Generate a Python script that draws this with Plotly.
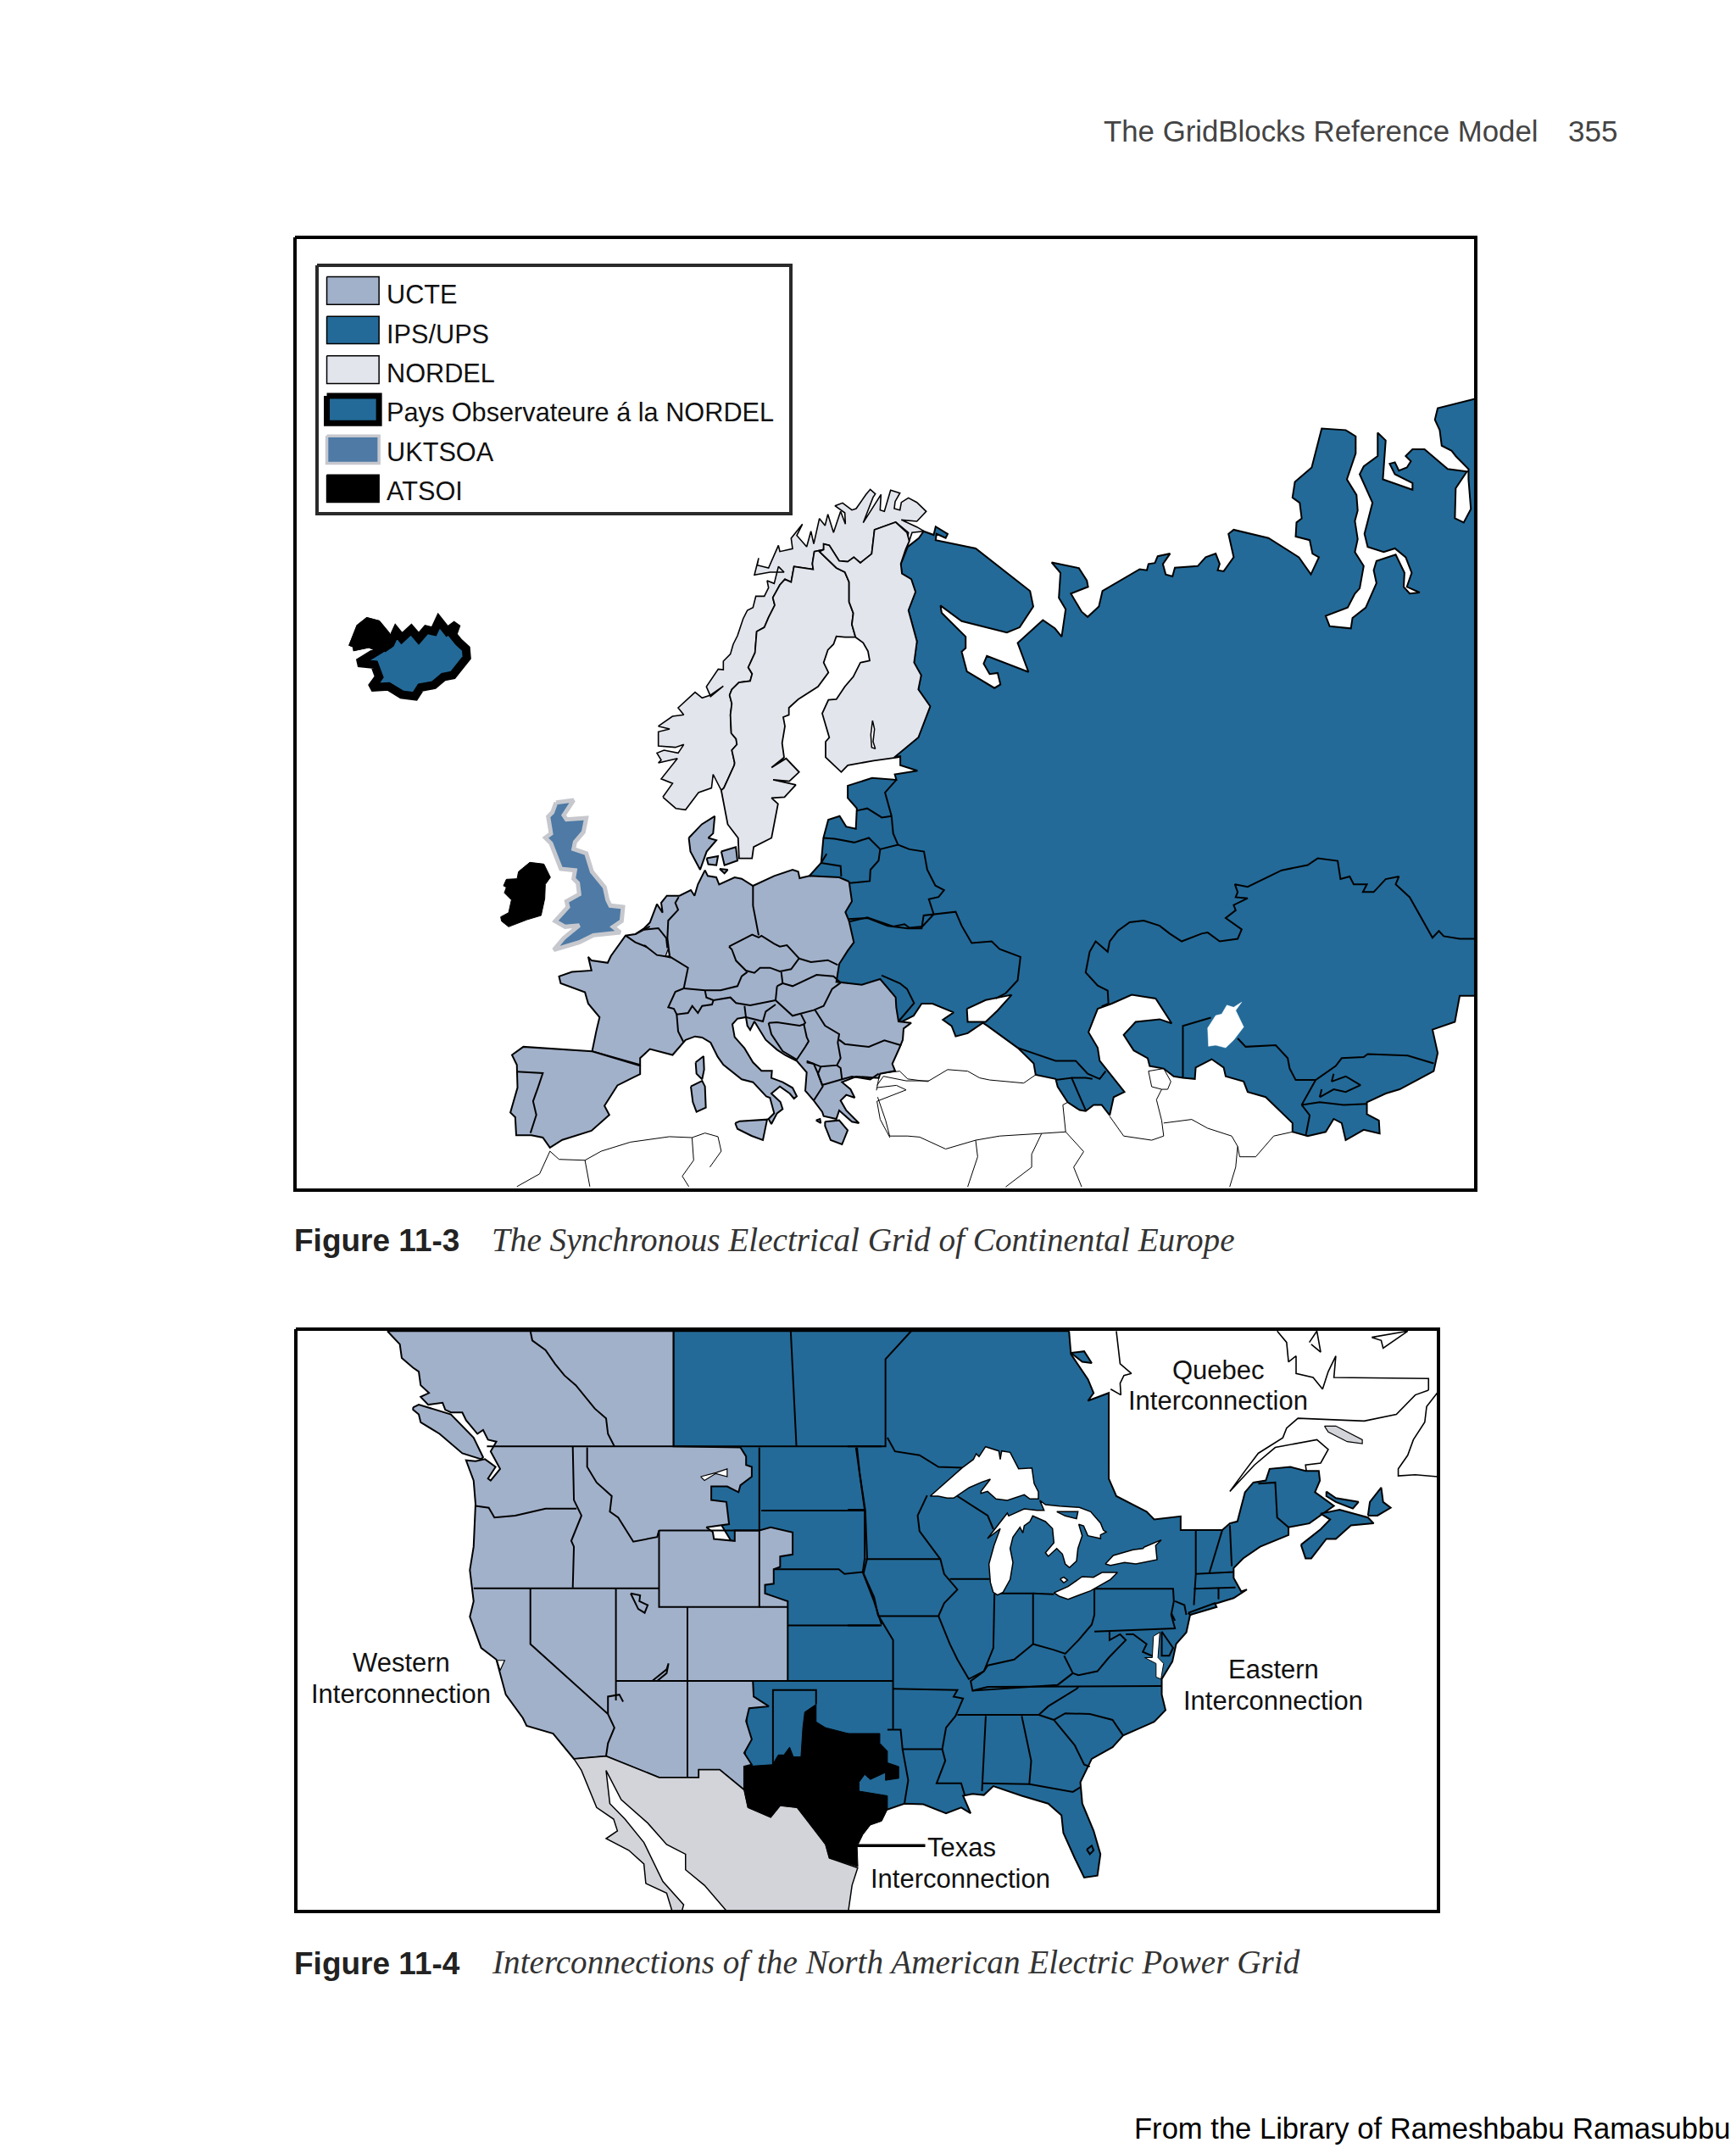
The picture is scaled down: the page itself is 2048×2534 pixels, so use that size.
import plotly.graph_objects as go

# ---------- colours ----------
UCTE_C, IPS_C, NORDEL_C, UK_C, UK_HALO, BLACK, MEX_C = "#A2B1CA", "#236A98", "#E3E5ED", "#4E7AA5", "#C6C8CE", "#000000", "#D3D4D9"

# ---------- legend ----------
legend_labels = ["UCTE", "IPS/UPS", "NORDEL", "Pays Observateure á la NORDEL", "UKTSOA", "ATSOI"]
legend_tops = [136, 249, 361, 475, 589, 700]
legend_bottoms = [215, 327, 440, 553, 667, 778]
legend_text_y = [185, 297, 410, 520, 633, 745]

# ---------- Europe (outlines) ----------
ips_east = [(132,370),(150,335),(178,318),(190,305),(215,312),(220,296),(250,310),(245,318),(222,310),(220,322),(320,338),(456,420),(464,450),(430,490),(398,500),(285,478),(232,448),(235,462),(295,508),(295,530),(285,537),(298,575),(367,607),(382,600),(375,578),(355,580),(340,560),(348,545),(452,576),(425,520),(488,476),(518,492),(535,508),(545,455),(528,433),(532,385),(510,365),(578,376),(598,400),(601,412),(558,425),(585,460),(600,470),(628,450),(637,420),(730,378),(748,380),(752,368),(768,366),(775,353),(806,348),(788,368),(795,388),(812,392),(818,375),(875,372),(895,355),(920,348),(930,368),(925,380),(940,382),(965,355),(952,310),(965,302),(1052,318),(1128,355),(1158,388),(1178,355),(1162,348),(1155,322),(1120,315),(1122,288),(1135,280),(1130,250),(1112,240),(1118,210),(1160,182),(1185,107),(1245,110),(1270,122),(1270,155),(1248,205),(1272,235),(1275,265),(1268,285),(1275,320),(1268,345),(1290,372),(1280,415),(1268,425),(1250,452),(1195,468),(1205,488),(1258,492),(1262,472),(1295,452),(1322,405),(1315,380),(1322,362),(1370,350),(1392,385),(1390,412),(1405,425),(1430,423),(1398,412),(1410,385),(1395,355),(1368,338),(1340,345),(1300,335),(1292,310),(1312,250),(1280,195),(1290,180),(1325,160),(1325,115),(1345,130),(1338,205),(1412,225),(1412,212),(1368,195),(1355,175),(1368,172),(1378,188),(1398,182),(1408,170),(1395,160),(1412,147),(1442,147),(1500,185),(1548,190),(1520,222),(1518,280),(1540,288),(1558,262),(1552,205),(1552,185),(1520,160),(1510,150),(1485,140),(1480,110),(1468,90),(1475,68),(1568,50),(1568,1200),(1530,1200),(1518,1250),(1462,1265),(1475,1310),(1465,1345),(1380,1380),(1345,1388),(1298,1405),(1298,1428),(1328,1440),(1330,1465),(1290,1458),(1245,1478),(1235,1445),(1215,1437),(1195,1462),(1150,1470),(1112,1462),(1112,1445),(1045,1395),(1000,1385),(990,1365),(945,1355),(940,1338),(910,1322),(870,1338),(868,1360),(838,1358),(815,1355),(790,1340),(755,1335),(750,1320),(715,1305),(690,1275),(720,1250),(780,1245),(810,1253),(770,1205),(710,1198),(660,1215),(625,1225),(602,1270),(625,1300),(630,1325),(680,1375),(692,1385),(665,1395),(655,1430),(635,1410),(615,1410),(595,1422),(580,1420),(550,1405),(525,1375),(520,1360),(470,1352),(465,1330),(425,1300),(350,1258),(338,1252),(300,1272),(270,1278),(260,1258),(238,1246),(265,1232),(232,1222),(212,1215),(185,1215),(165,1238),(130,1252)]
ips_west = [(1310,1205),(1280,1170),(1240,1125),(1090,1125),(1110,1075),(1150,1040),(1145,1000),(1130,985),(1125,960),(1145,945),(1130,905),(1110,900),(1030,885),(1068,855),(1075,800),(1090,760),(1125,752),(1145,775),(1175,780),(1178,735),(1150,712),(1150,685),(1225,668),(1300,672),(1295,660),(1365,652),(1312,640),(1312,620)]
ips_finn_border = [(855,1000),(940,930),(982,820),(940,760),(950,710),(925,665),(935,590),(905,480),(930,415),(915,370),(882,350),(878,315)]
azov = [(298,1225),(345,1208),(410,1198),(375,1228),(345,1250),(300,1250)]
aral = [(900,1262),(920,1238),(935,1235),(948,1218),(965,1222),(985,1212),(970,1228),(990,1260),(965,1285),(945,1300),(920,1295),(902,1297)]
ips_lines_east = [
 [(0,1052),(50,1050),(100,1065),(150,1070),(185,1070),(190,1045),(270,1038),(285,1065),(310,1098),(360,1095),(380,1110),(432,1125),(425,1170),(395,1195),(370,1205)],
 [(1568,1090),(1530,1090),(1490,1085),(1478,1075),(1462,1088),(1405,1010),(1370,985),(1378,970),(1345,975),(1315,1000),(1288,1000),(1298,985),(1265,985),(1255,970),(1232,975),(1225,940),(1175,935),(1150,948),(1085,958),(1040,975),(1000,990),(968,985),(975,1000),(970,1010),(1000,1012),(965,1025),(970,1035),(945,1050),(985,1072),(975,1090),(930,1095),(900,1078),(885,1080),(835,1095),(805,1080),(780,1065),(740,1055),(705,1058),(675,1075),(655,1095),(650,1115),(620,1095),(605,1115),(595,1155),(625,1180),(650,1190),(652,1215),(635,1220)],
 [(838,1358),(838,1258),(908,1242)],
 [(975,1282),(995,1298),(1070,1295),(1100,1320),(1105,1340),(1120,1362),(1170,1362),(1220,1335),(1235,1320),(1290,1318),(1300,1312),(1400,1315),(1465,1330)],
 [(1170,1362),(1135,1410),(1180,1405),(1240,1410),(1298,1408)],
 [(1180,1395),(1215,1380),(1245,1385),(1282,1372),(1245,1355),(1210,1365),(1215,1350)],
 [(1185,1380),(1180,1395)],
 [(1135,1410),(1155,1430),(1145,1470)],
 [(425,1300),(470,1312),(520,1325),(570,1325),(600,1350),(630,1360),(645,1345)],
 [(520,1362),(560,1358),(575,1385),(595,1420)],
 [(560,1358),(595,1358),(612,1360)],
]
ips_lines_west = [
 [(1178,740),(1210,735),(1255,755),(1285,752)],
 [(1300,672),(1265,700),(1285,752),(1290,790),(1305,815)],
 [(1075,800),(1110,802),(1170,810),(1215,800),(1250,825),(1245,850),(1220,870),(1218,895),(1150,900)],
 [(1085,835),(1068,855),(1128,862),(1130,885)],
 [(1250,825),(1305,815),(1340,825),(1385,830),(1395,870),(1420,905),(1447,915),(1430,930),(1400,935),(1415,968)],
 [(1415,968),(1380,995),(1340,998),(1325,990),(1290,995),(1250,985),(1210,975),(1152,985)],
]
moldova_line = [(840,452),(905,480),(930,500),(955,550),(900,615)]
thin_east = [
 [(72,1382),(80,1350),(130,1345),(150,1360),(200,1365),(250,1342),(300,1345),(330,1358),(355,1362),(440,1368),(470,1352)],
 [(75,1395),(95,1440),(105,1470),(150,1470),(180,1472),(245,1495),(320,1478),(380,1470),(485,1465),(545,1462),(538,1410),(550,1405)],
 [(320,1478),(325,1510),(300,1568)],
 [(485,1465),(460,1505),(460,1530),(395,1568)],
 [(545,1462),(590,1500),(565,1530),(585,1568)],
 [(655,1432),(690,1470),(760,1478),(790,1470),(785,1440),(772,1400),(785,1380),(760,1375),(752,1345),(790,1340),(808,1365),(800,1380),(785,1380)],
 [(790,1445),(860,1438),(900,1455),(960,1470),(975,1490),(980,1510),(1020,1510),(1065,1470),(1112,1462)],
 [(975,1490),(970,1530),(955,1568)],
]
thin_west = [
 [(130,1568),(200,1540),(232,1490),(260,1508),(340,1510),(390,1490),(480,1470),(600,1458),(670,1460),(710,1450),(750,1458),(760,1490),(725,1525)],
 [(340,1510),(355,1568)],
 [(670,1460),(675,1510),(640,1545),(660,1568)],
 [(1240,1345),(1260,1325),(1330,1335),(1400,1335)],
 [(1240,1350),(1300,1345),(1330,1355),(1240,1380),(1250,1420),(1280,1460)],
]
ucte_north = [(725,120),(690,105),(585,100),(550,108),(545,85),(525,78),(460,100),(385,135),(345,110),(320,105),(265,130),(255,105),(225,100),(215,80),(190,130),(178,170),(165,150),(125,170),(80,170),(60,195),(65,230),(45,200),(20,265),(0,285)]
ucte_atlantic = [(495,1012),(465,1015),(420,1060),(410,1075),(360,1070),(350,1062),(360,1092),(300,1095),(260,1105),(265,1120),(340,1140),(350,1165),(385,1195),(375,1225),(362,1270),(510,1300),(510,1285),(540,1265),(610,1278),(650,1245)]
ucte_south = [(180,668),(205,672),(235,690),(260,740),(280,768),(345,820),(385,830),(410,855),(432,880),(445,885),(460,940),(440,960),(450,978),(470,940),(490,925),(482,900),(450,870),(480,845),(515,870),(530,888),(540,880),(525,850),(490,830),(450,815),(452,790),(415,790),(385,760),(355,710),(320,670),(312,625),(330,605),(360,600),(365,630),(375,645),(390,615),(430,680),(470,715),(500,735),(540,755),(575,795),(570,860),(600,895),(630,935),(635,950),(680,960),(690,930),(735,970),(760,975),(715,930),(695,895),(715,875),(745,885),(730,855),(700,830),(750,810),(830,815),(835,800),(888,790),(878,765),(905,705),(915,680),(918,640),(945,620),(900,615),(892,565),(890,530),(835,465),(770,485),(695,478),(680,475),(690,412),(720,365),(742,335),(725,260),(712,228),(735,190)]
peloponnese = [(640,970),(690,965),(720,1000),(700,1050),(660,1035),(640,985)]
kythira = [(608,965),(622,960),(625,975)]
spain = [(362,1270),(510,1302),(510,1320),(440,1345),(400,1390),(415,1410),(360,1445),(270,1465),(232,1482),(210,1460),(175,1455),(128,1455),(125,1415),(110,1405),(132,1350),(130,1300),(115,1278),(150,1260)]
sardinia = [(165,845),(205,825),(215,845),(218,920),(185,935),(172,900)]
corsica = [(182,760),(210,738),(212,785),(205,820),(185,800)]
sicily = [(322,975),(338,968),(435,962),(420,1035),(380,1020),(330,995)]
jutland = [(660,800),(700,770),(740,752),(735,790),(720,800),(745,805),(715,830),(695,870),(665,830)]
dk_isle_a = [(715,845),(750,840),(745,860),(720,858)]
dk_isle_b = [(760,830),(805,820),(810,850),(770,860)]
dk_isle_c = [(755,868),(780,870),(770,878)]
luxembourg = [(75,385),(85,358),(92,390)]
ucte_lines_west = [
 [(130,1315),(210,1318),(195,1350),(180,1380),(190,1410),(172,1450)],
 [(465,1015),(495,1030),(530,1040)],
 [(495,1012),(540,995)],
]
ucte_lines = [
 [(122,175),(110,195),(120,220),(85,258),(82,320),(90,385),(155,425),(140,498)],
 [(0,290),(50,285),(78,320),(82,355)],
 [(0,345),(45,380),(75,385),(90,385)],
 [(385,135),(385,205),(405,310)],
 [(300,350),(382,308),(405,318),(415,312),(460,340),(480,350),(505,345),(548,392),(520,430),(480,438),(445,425),(410,425),(390,443),(360,435),(325,400),(310,360),(300,350)],
 [(548,392),(590,405),(650,398),(685,415)],
 [(485,440),(490,480),(525,490),(570,470),(610,450),(670,455),(695,478)],
 [(470,490),(465,540),(525,595),(600,575),(635,560),(665,500),(695,478)],
 [(140,498),(215,505),(270,505),(330,490),(345,455),(365,440)],
 [(470,490),(490,480)],
 [(465,540),(420,548),(375,558),(325,550),(305,530),(245,540),(220,530),(215,505)],
 [(140,498),(110,510),(85,565),(105,570),(115,590),(155,585),(170,560),(190,585),(205,560),(240,555),(245,540)],
 [(115,590),(120,650),(140,690)],
 [(355,560),(360,600),(400,610),(420,615),(430,580),(465,555)],
 [(555,590),(570,620),(565,625)],
 [(440,620),(470,618),(550,630),(565,625),(575,670),(582,685),(570,705),(540,750),(490,720),(465,680),(450,660),(440,620)],
 [(605,575),(640,630),(690,660),(685,690),(695,745),(682,770),(625,775),(575,755)],
 [(625,775),(615,800),(630,840),(700,820),(695,780),(682,770)],
 [(575,760),(600,765),(615,800),(632,845),(600,895)],
 [(700,820),(735,810),(800,820),(830,800)],
 [(690,680),(710,695),(795,705),(850,682),(910,700)],
]
norway_south_a = [(580,710),(620,735),(650,738),(690,700),(730,690),(735,660),(760,695),(768,690),(800,640)]
norway_border_z1 = [(290,1020),(280,975),(298,955),(295,935),(278,915),(275,850),(280,810),(272,780),(280,760),(305,735),(345,730),(352,705),(338,682),(362,630),(368,555),(395,540),(410,505),(432,462),(425,435),(450,390),(468,370),(490,380),(500,325),(568,335),(565,315),(572,272),(605,265)]
norway_north_z1 = [(605,245),(625,250),(660,305),(690,308),(712,292),(735,312),(775,280),(785,195),(860,168),(905,205),(895,265),(908,235),(918,205),(960,200),(935,185),(880,160),(935,165),(968,130),(935,98),(905,82),(880,98),(875,125),(855,120),(858,95),(875,65),(842,55),(820,130),(805,125),(808,70),(745,170),(780,80),(788,68),(770,52),(755,70),(720,120),(705,125),(672,100),(645,110),(680,135),(682,175),(665,130),(640,205),(620,140),(610,180),(590,155),(570,245),(560,200),(545,255),(510,215),(530,175),(490,225),(495,262),(450,272),(445,250),(410,330),(370,320),(375,295),(360,355),(415,345),(465,345),(445,325),(430,385),(405,375),(410,400),(395,430),(365,430),(355,470),(335,480),(320,510),(300,570),(285,600),(275,635),(250,660),(250,690),(232,688),(205,730),(190,750),(205,785),(250,748),(205,780),(175,790),(150,770),(110,805),(90,825),(110,850),(70,855),(20,890),(60,900),(20,910),(20,960),(80,965),(110,955),(90,985),(40,975),(15,985),(30,1010),(20,1020)]
norway_south_b = [(625,625),(575,670),(610,680)]
sweden_z1 = [(590,272),(650,330),(680,345),(695,380),(695,450),(710,490),(705,530),(718,575),(680,575),(650,572),(640,600),(620,620),(605,665),(622,700),(585,750),(548,775),(515,795),(482,825),(482,850),(462,858),(468,890),(458,950),(465,1000)]
sweden_south = [(950,625),(915,645),(960,625),(1000,655),(970,675),(920,672),(990,683),(955,710),(915,712),(935,725),(915,800),(860,820),(855,845),(815,845),(812,800),(780,770),(760,695),(768,690),(800,640)]
finland_a = [(718,575),(745,595),(762,625),(768,658),(735,665),(710,715),(680,750),(650,795),(622,797),(600,845),(625,930),(612,945),(612,1000)]
finland_b = [(1130,655),(1150,640),(1230,630),(1310,622)]
finland_c = [(855,1000),(940,930),(982,820),(940,760),(950,710),(925,665),(935,590),(905,480),(930,415),(915,370),(882,350),(878,315),(895,265),(908,235),(900,205),(860,168),(785,195),(775,280),(735,312),(712,292),(690,308),(660,305),(625,250),(605,245),(605,265),(590,272),(650,330),(680,345),(695,380),(695,450),(710,490),(705,530)]
finn_lake = [(778,870),(785,900),(780,945),(788,970),(775,965),(772,920)]
britain = [(258,50),(320,42),(285,95),(295,110),(365,105),(355,155),(325,190),(320,215),(365,230),(385,295),(430,350),(440,395),(450,415),(495,420),(490,470),(460,490),(485,510),(390,520),(340,545),(250,572),(285,530),(340,485),(290,490),(255,470),(300,420),(295,400),(340,375),(335,335),(320,320),(325,290),(275,285),(255,230),(240,195),(220,175),(240,160),(230,100),(245,85)]
ireland = [(125,295),(165,262),(215,268),(238,315),(220,340),(218,390),(205,450),(155,465),(90,490),(65,470),(62,455),(90,440),(100,395),(75,370),(82,350),(72,345),(82,322),(120,320)]
iceland = [(170,1190),(180,1160),(190,1135),(210,1118),(235,1125),(258,1155),(262,1185),(250,1195),(270,1180),(285,1145),(300,1165),(325,1140),(345,1165),(365,1140),(385,1145),(398,1115),(420,1145),(445,1125),(435,1155),(450,1175),(470,1195),(472,1220),(450,1245),(435,1270),(410,1275),(385,1298),(350,1305),(335,1330),(300,1325),(265,1302),(220,1305),(240,1275),(228,1240),(185,1235),(215,1215),(245,1195),(215,1180)]
westfjords = [(170,1190),(190,1135),(210,1118),(235,1125),(258,1155),(262,1185),(245,1195),(215,1180)]

# ---------- North America ----------
east_main_c5 = [(585,66),(590,125),(635,190),(650,225),(635,245),(690,225),(690,445),(710,490),(790,530),(810,550),(880,542),(880,577),(990,577),(1010,560),(1030,555),(1050,480),(1072,455),(1105,450),(1115,420),(1170,415),(1210,425),(1245,425),(1248,450),(1235,480),(1285,515),(1250,540),(1220,560),(1165,570),(1165,590),(1090,620),(1045,650),(1020,675),(1020,700),(1040,735),(1055,730),(1020,752),(960,770),(905,795),(895,840),(868,870),(858,915),(830,960),(830,1000),(840,1040),(810,1070),(728,1105),(700,1135),(645,1165),(615,1225),(620,1280),(650,1350),(668,1410),(660,1465),(625,1470),(600,1420),(570,1355),(565,1310),(530,1280),(460,1260),(385,1235),(360,1258),(330,1255),(305,1260),(325,1305),(300,1290),(260,1305),(200,1282),(150,1280),(105,1295)]
east_main_c4 = [(1205,1185),(1230,700),(1018,362),(1018,66)]
west_main = [(262,66),(295,100),(300,135),(330,160),(345,170),(350,205),(372,225),(350,235),(370,255),(408,250),(415,268),(430,275),(460,275),(470,295),(500,330),(515,320),(528,345),(550,350),(535,375),(560,420),(535,450),(528,445),(548,415),(520,395),(495,400),(470,398),(490,450),(495,510),(490,620),(480,680),(490,760),(480,800),(510,880),(550,910),(575,1000),(620,1060),(630,1080),(700,1100),(755,1165),(840,1158),(980,1213),(1085,1213),(1085,1193),(1140,1193),(1205,1245),(1205,1185),(1225,1180),(1205,1150),(1225,1115),(1210,1068),(1218,1035),(1270,1030),(1230,1005),(1228,965),(1320,965),(1320,760),(1290,750),(1260,740),(1260,718),(1283,715),(1283,678),(1300,672),(1300,645),(1333,640),(1333,583),(1275,570),(1245,578),(1180,578),(1180,605),(1125,600),(1122,582),(1105,570),(1165,562),(1158,505),(1118,500),(1118,465),(1160,465),(1190,480),(1195,462),(1225,440),(1225,415),(1210,410),(1210,388),(1195,365),(1018,362),(1018,66)]
vancouver = [(330,262),(345,255),(430,280),(490,340),(515,390),(510,395),(460,380),(430,355),(400,330),(350,300),(345,280),(330,268)]
west_lines = [
 [(640,66),(645,90),(680,115),(705,150),(730,180),(760,205),(810,265),(840,290),(845,330),(862,362)],
 [(525,362),(1568,362)],
 [(752,362),(755,500),(775,540),(748,605),(755,620),(752,725)],
 [(495,515),(530,520),(545,545),(600,540),(680,522),(762,522)],
 [(790,365),(790,415),(815,455),(855,490),(850,530),(872,545),(912,607),(975,595),(980,578)],
 [(980,578),(1245,578),(1245,775),(980,775),(980,578)],
 [(1245,365),(1245,578)],
 [(490,727),(980,727)],
 [(640,727),(640,870),(845,1050),(862,1085),(845,1125),(840,1158)],
 [(866,727),(866,1015)],
 [(866,965),(1228,965)],
 [(1055,775),(1055,1213)],
 [(845,1050),(845,1005),(875,1000),(885,1018)],
 [(1245,775),(1320,775)],
 [(1328,66),(1343,362)],
 [(1250,527),(1525,527)],
 [(1283,678),(1455,678),(1470,690),(1520,685)],
 [(1503,365),(1510,430),(1525,527),(1530,650),(1520,690),(1548,760),(1568,820)],
 [(1320,822),(1568,822)],
 [(1320,965),(1568,965)],
 [(1281,1180),(1281,988),(1395,988),(1395,1025)],
]
salt_lake = [(905,740),(930,745),(928,760),(950,770),(942,790),(925,780)]
powell = [(962,965),(1000,935),(1005,920),(1000,945),(975,965)]
fort_peck = [(1090,440),(1130,430),(1160,420),(1160,440),(1130,432),(1100,450)]
sf_bay = [(552,912),(572,912),(560,938)]
mexico = [(755,1165),(840,1158),(980,1213),(1085,1213),(1085,1193),(1140,1193),(1205,1245),(1215,1290),(1275,1315),(1300,1285),(1345,1290),(1385,1340),(1420,1385),(1430,1420),(1505,1445),(1490,1490),(1480,1558),(1160,1558),(1100,1490),(1050,1450),(1050,1410),(1000,1385),(950,1330),(880,1270),(840,1195),(850,1280),(890,1320),(940,1380),(990,1480),(1045,1540),(1040,1558),(1015,1558),(1000,1510),(945,1485),(940,1435),(900,1400),(840,1370),(870,1350),(860,1320),(815,1290),(775,1195)]
texas_c4a = [(1205,1185),(1280,1180),(1295,1155),(1310,1155),(1325,1135),(1335,1160),(1355,1160),(1360,1085),(1365,1045),(1395,1025),(1395,1070),(1420,1085),(1480,1100)]
texas_c5 = [(0,1100),(85,1100),(85,1125),(105,1145),(105,1175),(135,1185),(135,1215),(100,1220),(100,1200),(60,1218),(45,1205),(30,1225),(30,1248),(105,1260),(105,1295),(90,1325),(60,1335),(40,1360),(25,1390),(27,1442)]
texas_c4b = [(1430,1420),(1420,1385),(1385,1340),(1345,1290),(1300,1285),(1275,1315),(1215,1290),(1205,1245)]
superior = [(52,255),(165,155),(205,125),(215,105),(225,115),(248,80),(295,95),(300,125),(305,95),(335,100),(365,158),(412,155),(420,210),(435,240),(435,265),(405,265),(385,250),(325,270),(285,265),(255,238),(232,245),(232,238),(265,195),(235,205),(190,225),(135,262),(112,262),(80,255)]
mich_huron = [(255,405),(300,345),(325,315),(330,325),(385,300),(430,305),(455,305),(440,270),(460,285),(510,290),(580,295),(620,310),(655,350),(665,375),(675,382),(655,392),(655,405),(610,395),(595,360),(578,355),(590,395),(575,440),(570,485),(545,508),(530,495),(520,460),(500,440),(470,468),(460,455),(490,420),(485,370),(460,345),(415,325),(405,345),(385,360),(380,385),(370,365),(345,400),(335,440),(345,490),(335,550),(310,595),(290,605),(275,595),(265,560),(260,495),(278,430),(300,370),(270,395)]
manitoulin = [(500,310),(575,310),(570,335),(530,325)]
erie = [(490,597),(540,575),(590,540),(630,542),(660,525),(715,525),(690,550),(620,590),(540,620),(510,610)]
ontario = [(672,495),(700,465),(770,445),(805,440),(810,435),(870,410),(850,430),(855,480),(780,495),(740,490),(690,500)]
st_clair = [(512,548),(525,542),(538,552),(525,562)]
chesapeake = [(825,840),(808,850),(805,905),(785,905),(815,920),(815,955),(828,960),(835,920),(820,905)]
long_island = [(900,790),(970,765),(975,775),(905,795)]
james_isle = [(590,122),(625,118),(645,148),(620,145)]
okeechobee = [(632,1398),(645,1388),(650,1400),(640,1410)]
nova_scotia = [(1198,615),(1250,575),(1275,550),(1250,535),(1300,525),(1375,545),(1390,560),(1330,565),(1290,600),(1265,600),(1225,650),(1210,650)]
pei = [(1265,478),(1290,495),(1350,505),(1335,522),(1290,505),(1265,490)]
cape_breton = [(1375,540),(1380,505),(1410,468),(1415,505),(1435,520),(1400,540)]
anticosti = [(1260,310),(1290,310),(1360,345),(1360,355),(1320,350),(1270,325)]
east_lines = [
 [(168,66),(100,138),(100,362),(0,362)],
 [(105,340),(125,375),(190,385),(240,415),(305,417)],
 [(22,365),(45,525),(45,650),(40,685),(70,750),(80,795),(120,860),(120,1090)],
 [(0,525),(45,525)],
 [(0,822),(85,822)],
 [(0,965),(120,965)],
 [(48,652),(245,652),(255,690),(290,730),(255,765),(240,798),(80,798)],
 [(245,652),(190,580),(185,540),(210,488)],
 [(270,703),(375,703)],
 [(240,798),(270,870),(290,910),(320,960),(360,940),(385,880),(388,740)],
 [(388,740),(490,740),(490,870),(440,910),(370,925),(360,940)],
 [(490,740),(545,742)],
 [(652,728),(652,795),(645,820),(610,860),(575,895),(545,885),(490,870)],
 [(290,490),(370,540),(385,575)],
 [(652,728),(860,728),(862,760),(855,795),(865,830),(652,838)],
 [(572,900),(595,945),(555,975),(330,990),(325,965),(360,940)],
 [(692,838),(692,860),(720,845),(735,860),(690,905),(660,940),(610,950),(595,945)],
 [(735,845),(755,845),(790,870),(780,890),(815,905)],
 [(830,838),(860,880),(850,900),(830,900),(830,838)],
 [(330,990),(370,980),(830,978)],
 [(290,1052),(505,1052),(530,1030),(605,985),(610,980)],
 [(545,1065),(575,1048),(640,1050),(700,1065),(728,1105)],
 [(505,1052),(545,1065),(600,1130),(625,1180),(640,1185)],
 [(120,985),(290,988),(280,1005),(305,1010),(285,1055),(260,1085),(250,1140),(145,1140),(140,1090),(105,1090)],
 [(145,1140),(160,1220),(150,1280)],
 [(250,1140),(258,1170),(235,1228),(300,1228),(310,1260)],
 [(365,1055),(355,1248)],
 [(460,1055),(485,1170),(480,1230),(355,1228)],
 [(480,1230),(595,1250),(615,1238)],
 [(920,577),(920,690),(915,770)],
 [(990,577),(955,690)],
 [(1010,565),(1015,670)],
 [(920,690),(1020,685)],
 [(915,728),(1025,725)],
 [(980,725),(980,755)],
 [(865,760),(890,770),(895,795)],
 [(865,810),(855,790)],
 [(1085,458),(1130,455),(1135,545),(1165,570)],
]
quebec_lines = [
 [(710,66),(720,150),(750,175),(730,180),(720,200),(722,230),(695,215)],
 [(1135,66),(1160,95),(1165,145),(1185,130),(1185,175),(1230,185),(1255,215),(1270,170),(1290,130),(1285,185),(1535,188),(1535,218)],
 [(1535,218),(1500,230),(1450,280),(1365,297),(1190,290),(1160,315),(1150,340),(1085,380),(1050,425),(1010,478),(1075,410),(1130,365),(1240,345),(1270,370),(1250,405),(1210,410),(1212,425)],
 [(1558,225),(1530,260),(1525,300),(1495,345),(1480,385),(1455,420),(1455,438),(1500,435),(1558,440)],
 [(1385,82),(1480,66),(1415,110),(1410,90),(1385,82)],
 [(1220,95),(1240,66),(1250,120),(1225,100)],
]
texas_leader = [(25,1388),(205,1388)]


# crop frames that the outlines above were read in
def c1(p): return [(340 + x / 2.24, 270 + y / 2.412) for x, y in p]
def c2(p): return [(560 + x / 2.613, 560 + y / 1.867) for x, y in p]
def c3(p): return [(1000 + x / 2.119, 440 + y / 1.633) for x, y in p]
def c4(p): return [(340 + x / 2.24, 1540 + y / 2.178) for x, y in p]
def c5(p): return [(1000 + x / 2.24, 1540 + y / 2.178) for x, y in p]
def z1(p): return [(770 + x / 3, 560 + y / 3) for x, y in p]
def z2(p): return [(760 + x / 3, 1000 + y / 3) for x, y in p]
def z3(p): return [(570 + x / 3, 930 + y / 3) for x, y in p]
def z4(p): return [(1080 + x / 3, 1680 + y / 3) for x, y in p]

fig = go.Figure()

def poly(pts, fill, line=BLACK, width=2.0):
    pts = list(pts) + [pts[0]]
    fig.add_trace(go.Scatter(x=[p[0] for p in pts], y=[p[1] for p in pts], mode="lines", fill="toself",
                             fillcolor=fill, line=dict(color=line, width=width), hoverinfo="skip", showlegend=False))

def lines(groups, conv, width=2.0, color=BLACK):
    xs, ys = [], []
    for g in groups:
        for px, py in conv(g):
            xs.append(px); ys.append(py)
        xs.append(None); ys.append(None)
    fig.add_trace(go.Scatter(x=xs, y=ys, mode="lines", line=dict(color=color, width=width),
                             hoverinfo="skip", showlegend=False))

# ---- Europe ----
lines(thin_east, c3, 1.0)
lines(thin_west, c2, 1.0)
poly(c3(ips_east) + c2(ips_west) + z1(ips_finn_border), IPS_C)
poly(c3(azov), "#FFFFFF")
poly(c3(aral), "#FFFFFF", "#FFFFFF", 0.5)
lines(ips_lines_east, c3)
lines(ips_lines_west, c2)
poly(z2(ucte_north) + c2(ucte_atlantic) + z2(ucte_south), UCTE_C)
poly(c2(spain), UCTE_C)
for isle in (sardinia, corsica, sicily, peloponnese, kythira):
    poly(z2(isle), UCTE_C)
for isle in (jutland, dk_isle_a, dk_isle_b, dk_isle_c):
    poly(c2(isle), UCTE_C)
poly(z2(luxembourg), NORDEL_C, BLACK, 1.2)
lines(ucte_lines_west, c2)
lines(ucte_lines, z2)
lines([moldova_line], z2)
poly(c2(norway_south_a) + z1(norway_border_z1) + z1(norway_north_z1) + c2(norway_south_b), NORDEL_C, BLACK, 1.6)
poly(z1(sweden_z1) + c2(sweden_south) + z1(norway_border_z1), NORDEL_C, BLACK, 1.8)
poly(z1(finland_a) + c2(finland_b) + z1(finland_c), NORDEL_C, BLACK, 1.8)
poly(z1(finn_lake), "#FFFFFF", BLACK, 1.5)
poly(z3(britain), UK_C, UK_HALO, 5)
poly(z3(ireland), BLACK, BLACK, 1)
poly(c1(iceland), IPS_C, BLACK, 10)
poly(c1(westfjords), BLACK, BLACK, 10)

# ---- North America ----
poly(c5(east_main_c5) + c4(east_main_c4), IPS_C)
poly(c4(west_main), UCTE_C)
poly(c4(vancouver), UCTE_C)
poly(c4(mexico), MEX_C, BLACK, 1.5)
lines(west_lines, c4)
poly(c4(salt_lake), UCTE_C)
poly(c4(powell), UCTE_C)
poly(c4(fort_peck), "#FFFFFF", BLACK, 1.2)
poly(c4(sf_bay), "#FFFFFF", BLACK, 1.2)
lines(east_lines, c5)
for lake in (superior, mich_huron, erie, ontario, st_clair):
    poly(z4(lake), "#FFFFFF", BLACK, 1.5)
poly(c5(chesapeake), "#FFFFFF", BLACK, 1.0)
poly(z4(manitoulin), IPS_C, BLACK, 1.5)
for isle in (long_island, james_isle, okeechobee, nova_scotia, pei, cape_breton):
    poly(c5(isle), IPS_C)
poly(c5(anticosti), MEX_C, BLACK, 1.2)
lines(quebec_lines, c5, 1.6)
poly(c4(texas_c4a) + c5(texas_c5) + c4(texas_c4b), BLACK, BLACK, 1)
lines([texas_leader], c5, 3.5)

# ---- frames ----
frames = [[(348, 280), (1741, 280), (1741, 1404), (348, 1404), (348, 280)],
          [(349, 1568), (1697, 1568), (1697, 2255), (349, 2255), (349, 1568)]]
lines(frames, lambda p: p, 4.0)
lines([[(374, 313), (933, 313), (933, 606), (374, 606), (374, 313)]], lambda p: p, 4.0, "#2A2A2A")

# ---- legend ----
swatch_styles = [(UCTE_C, BLACK, 1.5), (IPS_C, BLACK, 1.5), (NORDEL_C, BLACK, 1.5), (IPS_C, BLACK, 7), (UK_C, UK_HALO, 3.5), (BLACK, BLACK, 1.5)]
ann = []
def text(s, x, y, size, anchor="left", family="Liberation Sans", color="#111111", **kw):
    ann.append(dict(text=s, x=x, y=y, xref="x", yref="y", showarrow=False, xanchor=anchor, yanchor="middle",
                    font=dict(family=family, size=size, color=color, **kw)))
for lab, t, b, ty, (f, l, w) in zip(legend_labels, legend_tops, legend_bottoms, legend_text_y, swatch_styles):
    poly(c1([(102, t), (240, t), (240, b), (102, b)]), f, l, w)
    px, py = c1([(260, ty)])[0]
    text(lab, px - 2, py + 1, 30.7)

text("The GridBlocks Reference Model", 1300, 154, 34.8, color="#444444", weight=300)
text("355", 1848, 154, 35, color="#444444", weight=300)
text("<b>Figure 11-3</b>", 345, 1463, 37, color="#222222")
text("<i>The Synchronous Electrical Grid of Continental Europe</i>", 578, 1463, 39.2, family="Liberation Serif", color="#333333")
text("<b>Figure 11-4</b>", 345, 2316, 37, color="#222222")
text("<i>Interconnections of the North American Electric Power Grid</i>", 578, 2315, 39.2, family="Liberation Serif", color="#333333")
text("Western", 473, 1961, 31, "center")
text("Interconnection", 473, 1998, 31, "center")
text("Quebec", 1437, 1616, 31, "center")
text("Interconnection", 1437, 1652, 31, "center")
text("Eastern", 1502, 1969, 31, "center")
text("Interconnection", 1502, 2006, 31, "center")
text("Texas", 1134, 2179, 31, "center")
text("Interconnection", 1133, 2216, 31, "center")
text("From the Library of Rameshbabu Ramasubbu", 1336, 2511, 34.6, color="#000000")

fig.update_layout(width=2048, height=2534, margin=dict(l=0, r=0, t=0, b=0), paper_bgcolor="#FFFFFF", plot_bgcolor="#FFFFFF",
                  showlegend=False, annotations=ann,
                  xaxis=dict(range=[0, 2048], visible=False, fixedrange=True),
                  yaxis=dict(range=[2534, 0], visible=False, fixedrange=True))
fig.write_html("out.html", post_script="document.body.style.margin='0';", config=dict(displayModeBar=False))
